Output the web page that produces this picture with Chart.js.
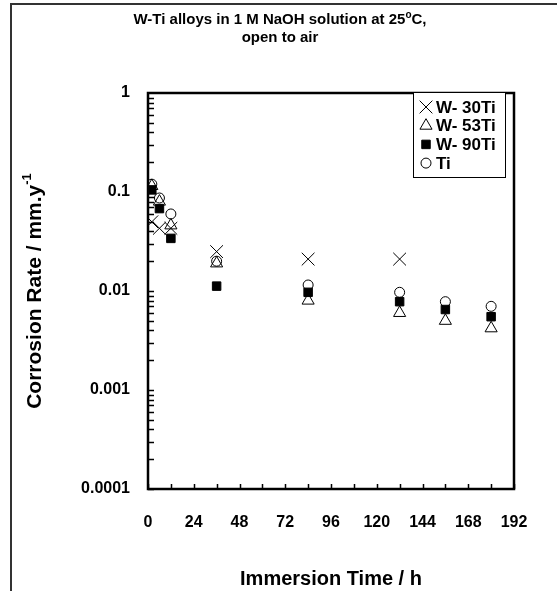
<!DOCTYPE html>
<html>
<head>
<meta charset="utf-8">
<script src="https://cdn.jsdelivr.net/npm/chart.js@4.4.0/dist/chart.umd.min.js"></script>
<style>
html, body { margin: 0; padding: 0; background: #fff; }
#wrap { width: 557px; height: 591px; }
</style>
</head>
<body>
<div id="wrap"><canvas id="chart" width="557" height="591"></canvas></div>
<script>
// immersion times (h) and corrosion rates (mm/y)
var hours = [2, 6, 12, 36, 84, 132, 156, 180];
var w30Ti = [0.050, 0.043, 0.043, 0.025, 0.021, 0.021, null, null];
var w53Ti = [0.115, 0.080, 0.046, 0.019, 0.0080, 0.0060, 0.0050, 0.0042];
var w90Ti = [0.105, 0.068, 0.034, 0.0112, 0.0097, 0.0078, 0.0065, 0.0055];
var ti = [0.120, 0.087, 0.060, 0.020, 0.0115, 0.0097, 0.0078, 0.0070];

var xTickValues = [0, 24, 48, 72, 96, 120, 144, 168, 192];
var yTickValues = [0.0001, 0.001, 0.01, 0.1, 1];
var yTickLabels = ["0.0001", "0.001", "0.01", "0.1", "1"];
var seriesNames = ["W- 30Ti", "W- 53Ti", "W- 90Ti", "Ti"];

var FONT = "'Liberation Sans', Arial, sans-serif";

function toPoints(vals) {
	var pts = [];
	for (var i = 0; i < hours.length; i++) {
		if (vals[i] != null) pts.push({x: hours[i], y: vals[i]});
	}
	return pts;
}

// outer frame, plot box, inward tick marks
var framePlugin = {
	id: "frame",
	afterDraw: function(chart) {
		var ctx = chart.ctx, a = chart.chartArea;
		var xs = chart.scales.x, ys = chart.scales.y;
		ctx.save();
		ctx.strokeStyle = "#333";
		ctx.lineWidth = 2;
		ctx.beginPath();
		ctx.moveTo(11, 591);
		ctx.lineTo(11, 4);
		ctx.lineTo(557, 4);
		ctx.stroke();

		ctx.strokeStyle = "#000";
		ctx.lineWidth = 1.5;
		ctx.beginPath();
		for (var h = 0; h <= 192; h += 12) {
			var px = Math.round(xs.getPixelForValue(h)) + 0.5;
			ctx.moveTo(px, a.bottom);
			ctx.lineTo(px, a.bottom - 5);
		}
		for (var e = -4; e < 0; e++) {
			for (var k = 1; k <= 9; k++) {
				var py = Math.round(ys.getPixelForValue(k * Math.pow(10, e))) + 0.5;
				ctx.moveTo(a.left, py);
				ctx.lineTo(a.left + 6, py);
			}
		}
		ctx.stroke();

		ctx.lineWidth = 2.5;
		ctx.strokeRect(a.left, a.top, a.right - a.left, a.bottom - a.top);
		ctx.restore();
	}
};

// titles and legend box
var textPlugin = {
	id: "texts",
	afterDraw: function(chart) {
		var ctx = chart.ctx, a = chart.chartArea;
		ctx.save();
		ctx.fillStyle = "#000";
		ctx.textBaseline = "middle";

		// chart title, line 1 with superscript o
		var t1 = "W-Ti alloys in 1 M NaOH solution at 25", t2 = "C,";
		ctx.font = "bold 10px " + FONT;
		var wo = ctx.measureText("o").width;
		ctx.font = "bold 15px " + FONT;
		var w1 = ctx.measureText(t1).width, w2 = ctx.measureText(t2).width;
		var x0 = 280 - (w1 + wo + w2) / 2;
		ctx.textAlign = "left";
		ctx.fillText(t1, x0, 20);
		ctx.font = "bold 10px " + FONT;
		ctx.fillText("o", x0 + w1, 15);
		ctx.font = "bold 15px " + FONT;
		ctx.fillText(t2, x0 + w1 + wo, 20);
		ctx.textAlign = "center";
		ctx.fillText("open to air", 280, 38);

		// x axis title
		ctx.font = "bold 20px " + FONT;
		ctx.fillText("Immersion Time / h", (a.left + a.right) / 2, 579);

		// y axis title with superscript -1
		ctx.translate(35, (a.top + a.bottom) / 2);
		ctx.rotate(-Math.PI / 2);
		var s1 = "Corrosion Rate / mm.y", s2 = "-1";
		ctx.font = "bold 21px " + FONT;
		var ws1 = ctx.measureText(s1).width;
		ctx.font = "bold 13px " + FONT;
		var ws2 = ctx.measureText(s2).width;
		var sx = -(ws1 + ws2) / 2;
		ctx.textAlign = "left";
		ctx.font = "bold 21px " + FONT;
		ctx.fillText(s1, sx, 0);
		ctx.font = "bold 13px " + FONT;
		ctx.fillText(s2, sx + ws1, -8);
		ctx.restore();

		// legend
		ctx.save();
		ctx.fillStyle = "#fff";
		ctx.fillRect(413, 92, 92, 85);
		ctx.strokeStyle = "#000";
		ctx.lineWidth = 1;
		ctx.strokeRect(413.5, 92.5, 92, 85);
		var ds = chart.data.datasets;
		for (var i = 0; i < ds.length; i++) {
			var y = 107 + i * 18.7;
			ctx.fillStyle = ds[i].backgroundColor;
			ctx.strokeStyle = ds[i].borderColor;
			ctx.lineWidth = 1;
			Chart.helpers.drawPoint(ctx, {
				pointStyle: ds[i].pointStyle,
				radius: ds[i].pointRadius,
				borderWidth: 1,
				rotation: 0
			}, 426, y);
			ctx.fillStyle = "#000";
			ctx.font = "bold 17px " + FONT;
			ctx.textAlign = "left";
			ctx.textBaseline = "middle";
			ctx.fillText(ds[i].label, 436, y + 1);
		}
		ctx.restore();
	}
};

new Chart(document.getElementById("chart"), {
	type: "scatter",
	data: {
		datasets: [
			{label: seriesNames[0], data: toPoints(w30Ti), pointStyle: "crossRot", pointRadius: 9,
				borderColor: "#000", backgroundColor: "#000", borderWidth: 1},
			{label: seriesNames[1], data: toPoints(w53Ti), pointStyle: "triangle", pointRadius: 7,
				borderColor: "#000", backgroundColor: "rgba(255,255,255,0)", borderWidth: 1},
			{label: seriesNames[2], data: toPoints(w90Ti), pointStyle: "rect", pointRadius: 6,
				borderColor: "#000", backgroundColor: "#000", borderWidth: 1},
			{label: seriesNames[3], data: toPoints(ti), pointStyle: "circle", pointRadius: 5,
				borderColor: "#000", backgroundColor: "rgba(255,255,255,0)", borderWidth: 1}
		]
	},
	options: {
		responsive: false,
		animation: false,
		layout: {padding: {left: 0, top: 93, right: 43, bottom: 0}},
		plugins: {
			legend: {display: false},
			title: {display: false},
			tooltip: {enabled: false}
		},
		scales: {
			x: {
				type: "linear",
				min: 0,
				max: 192,
				afterBuildTicks: function(s) {
					s.ticks = xTickValues.map(function(v) { return {value: v}; });
				},
				afterFit: function(s) { s.height = 102; },
				grid: {display: false, drawTicks: false},
				border: {display: false},
				ticks: {
					autoSkip: false,
					maxRotation: 0,
					padding: 24,
					color: "#000",
					font: {family: FONT, size: 16, weight: "bold"}
				}
			},
			y: {
				type: "logarithmic",
				min: 0.0001,
				max: 1,
				afterBuildTicks: function(s) {
					s.ticks = yTickValues.map(function(v) { return {value: v}; });
				},
				afterFit: function(s) { s.width = 148; },
				grid: {display: false, drawTicks: false},
				border: {display: false},
				ticks: {
					autoSkip: false,
					padding: 18,
					color: "#000",
					font: {family: FONT, size: 16, weight: "bold"},
					callback: function(v) {
						var i = yTickValues.indexOf(v);
						return i >= 0 ? yTickLabels[i] : "";
					}
				}
			}
		}
	},
	plugins: [framePlugin, textPlugin]
});
</script>
</body>
</html>
